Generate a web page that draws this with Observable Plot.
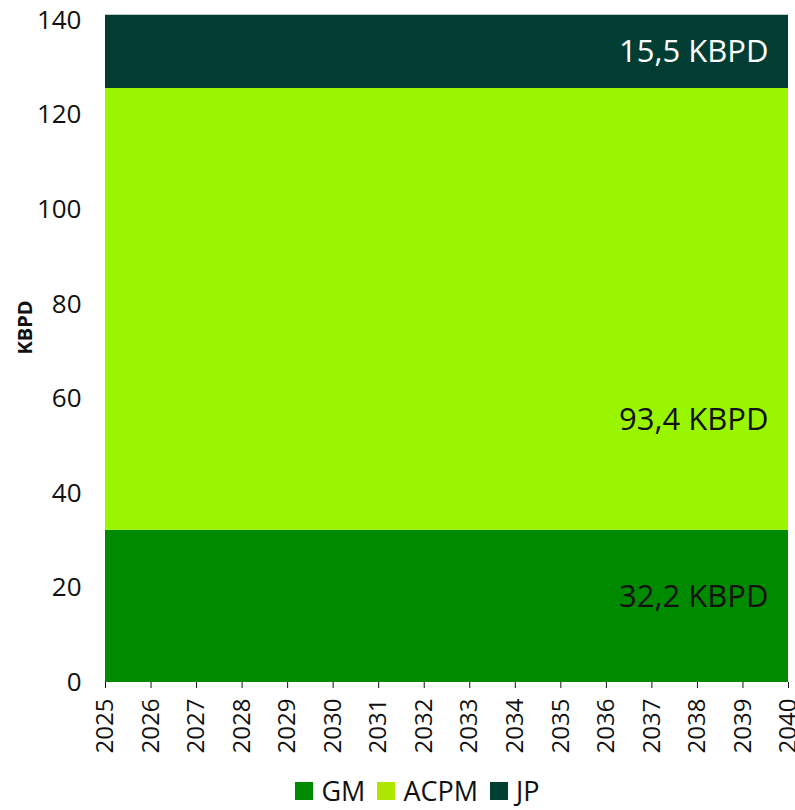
<!DOCTYPE html>
<html>
<head>
<meta charset="utf-8">
<script src="https://cdn.jsdelivr.net/npm/d3@7"></script>
<script src="https://cdn.jsdelivr.net/npm/@observablehq/plot@0.6"></script>
<style>
  html, body { margin: 0; padding: 0; background: #fff; }
  body { width: 795px; height: 810px; overflow: hidden; font-family: "Open Sans", sans-serif; position: relative; }
  #legend { position: absolute; left: 0; top: 772px; width: 835px; height: 38px; display: flex; justify-content: center; align-items: center; gap: 12px; font-size: 27px; line-height: 38px; color: #111; }
  #legend .item { display: flex; align-items: center; gap: 8px; }
  #legend .sw { width: 18px; height: 18px; display: inline-block; }
</style>
</head>
<body>
<div id="chart"></div>
<div id="legend"></div>
<script>
const years = [2025, 2026, 2027, 2028, 2029, 2030, 2031, 2032, 2033, 2034, 2035, 2036, 2037, 2038, 2039, 2040];
const seriesNames = ["GM", "ACPM", "JP"];
const gm   = [32.2, 32.2, 32.2, 32.2, 32.2, 32.2, 32.2, 32.2, 32.2, 32.2, 32.2, 32.2, 32.2, 32.2, 32.2, 32.2];
const acpm = [93.4, 93.4, 93.4, 93.4, 93.4, 93.4, 93.4, 93.4, 93.4, 93.4, 93.4, 93.4, 93.4, 93.4, 93.4, 93.4];
const jp   = [15.5, 15.5, 15.5, 15.5, 15.5, 15.5, 15.5, 15.5, 15.5, 15.5, 15.5, 15.5, 15.5, 15.5, 15.5, 15.5];
const areaColors = ["#008a00", "#9af500", "#023d33"];
const legendColors = ["#008a00", "#aee600", "#023f33"];
const yTicks = [0, 20, 40, 60, 80, 100, 120, 140];
const labels = ["32,2 KBPD", "93,4 KBPD", "15,5 KBPD"];
const labelY = [18, 55.4, 133.3];
const labelColors = ["#111", "#111", "#fff"];

const values = [gm, acpm, jp];
const rows = [];
seriesNames.forEach((s, i) => years.forEach((y, j) => rows.push({year: y, series: s, value: values[i][j]})));
const annot = labels.map((t, i) => ({text: t, y: labelY[i], color: labelColors[i], x: years[years.length - 1]}));

const chart = Plot.plot({
  width: 795,
  height: 772,
  marginTop: 20,
  marginBottom: 90,
  marginLeft: 105,
  marginRight: 7,
  style: {fontFamily: "Open Sans, sans-serif", fontSize: "24px", color: "#111"},
  x: {type: "linear", domain: [years[0], years[years.length - 1]]},
  y: {domain: [0, 140]},
  color: {domain: seriesNames, range: areaColors},
  marks: [
    Plot.areaY(rows, Plot.stackY({x: "year", y: "value", z: "series", fill: "series", order: seriesNames})),
    Plot.axisX({ticks: years, tickFormat: d => String(d), tickRotate: -90, tickSize: 6, tickPadding: 10, label: null, fontSize: 24}),
    Plot.axisY({ticks: yTicks, tickSize: 0, tickPadding: 24, label: "KBPD", labelAnchor: "center", labelArrow: "none", labelOffset: 88, fontSize: 26}),
    Plot.text(annot, {x: "x", y: "y", text: "text", fill: "color", textAnchor: "end", dx: -20, fontSize: 31})
  ]
});
document.getElementById("chart").appendChild(chart);
const yl = chart.querySelector('g[aria-label="y-axis label"]');
if (yl) {
  yl.setAttribute("font-weight", "bold");
  yl.setAttribute("font-size", "20px");
  const t = yl.querySelector("text");
  if (t) t.setAttribute("dx", "24");
}

const leg = document.getElementById("legend");
seriesNames.forEach((s, i) => {
  const it = document.createElement("span");
  it.className = "item";
  it.innerHTML = `<span class="sw" style="background:${legendColors[i]}"></span><span>${s}</span>`;
  leg.appendChild(it);
});
</script>
</body>
</html>
